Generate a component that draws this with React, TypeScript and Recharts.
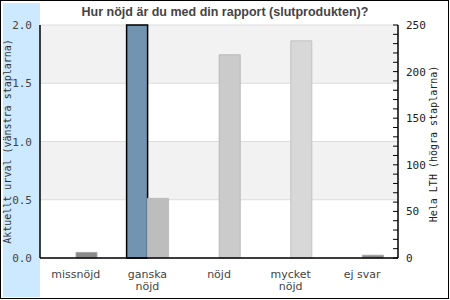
import { Bar, BarChart, CartesianGrid, Cell, XAxis, YAxis } from "recharts";

const categories = ["missnöjd", "ganska\nnöjd", "nöjd", "mycket\nnöjd", "ej svar"];
const urval = [0, 2, 0, 0, 0];
const helaLth = [6, 64, 218, 233, 3];
const lthColors = ["#8a8a8a", "#bdbdbd", "#cbcbcb", "#d8d8d8", "#8a8a8a"];
const lthStrokes = ["#a8a8a8", "#bdbdbd", "#b9b9b9", "#c2c2c2", "#a8a8a8"];
const leftTicks = [0, 0.5, 1, 1.5, 2];
const rightTicks = [0, 10, 20, 30, 40, 50, 60, 70, 80, 90, 100, 110, 120, 130, 140, 150, 160, 170, 180, 190, 200, 210, 220, 230, 240, 250];

const title = "Hur nöjd är du med din rapport (slutprodukten)?";
const leftTitle = "Aktuellt urval (vänstra staplarna)";
const rightTitle = "Hela LTH (högra staplarna)";

const data = categories.map((name, i) => ({
  name,
  urval: urval[i],
  lth: helaLth[i],
}));

const mono = "'DejaVu Sans Mono', monospace";

const CategoryTick = (props: any) => {
  const { x, y, payload } = props;
  const lines = String(payload.value).split("\n");
  return (
    <text
      x={x}
      y={y}
      textAnchor="middle"
      fontFamily="'DejaVu Sans', sans-serif"
      fontSize={11}
      fill="#444"
    >
      {lines.map((l, i) => (
        <tspan key={i} x={x} dy={i === 0 ? 20 : 11.5}>
          {l}
        </tspan>
      ))}
    </text>
  );
};

const LeftTick = (props: any) => {
  const { x, y, payload } = props;
  return (
    <text x={x} y={y} dy={4} textAnchor="end" fontFamily={mono} fontSize={11} fill="#444">
      {payload.value.toFixed(1)}
    </text>
  );
};

const RightTick = (props: any) => {
  const { x, y, payload } = props;
  const major = payload.value % 50 === 0;
  return (
    <g>
      <line x1={x - 13} x2={x - 8} y1={y} y2={y} stroke="#000" />
      {major && (
        <text x={x} y={y} dy={4} textAnchor="start" fontFamily={mono} fontSize={11} fill="#222">
          {payload.value}
        </text>
      )}
    </g>
  );
};

export default function App() {
  return (
    <div style={{ position: "absolute", left: 0, top: 0, width: 450, height: 300 }}>
      <svg width={450} height={300} style={{ position: "absolute", left: 0, top: 0 }}>
        <rect x={0.5} y={0.5} width={448} height={298} fill="#fff" stroke="#000" />
        <rect x={3} y={3} width={37} height={294} fill="#cce9ff" />
        <text
          x={225}
          y={16}
          textAnchor="middle"
          fontFamily="'Liberation Sans', Arial, sans-serif"
          fontWeight="bold"
          fontSize={12.5}
          fill="#444"
        >
          {title}
        </text>
        <text
          transform="translate(11,141.5) rotate(-90)"
          textAnchor="middle"
          fontFamily={mono}
          fontSize={10}
          fill="#333"
        >
          {leftTitle}
        </text>
        <text
          transform="translate(437,144) rotate(-90)"
          textAnchor="middle"
          fontFamily={mono}
          fontSize={10}
          fill="#222"
        >
          {rightTitle}
        </text>
      </svg>
      <div style={{ position: "absolute", left: 0, top: 0 }}>
        <BarChart
          width={450}
          height={300}
          data={data}
          barGap={0}
          barSize={21}
          margin={{ top: 25, right: 0, left: 0, bottom: 0 }}
        >
          <CartesianGrid
            yAxisId="left"
            vertical={false}
            stroke="#dddddd"
            fill="none"
            horizontalFill={["#f2f2f2", "#ffffff"]}
            fillOpacity={1}
          />
          <XAxis
            dataKey="name"
            height={42}
            interval={0}
            tickLine={false}
            tickSize={0}
            tickMargin={0}
            axisLine={{ stroke: "#000", strokeWidth: 1.5 }}
            tick={<CategoryTick />}
          />
          <XAxis
            xAxisId="top"
            orientation="top"
            dataKey="name"
            height={0}
            tick={false}
            tickLine={false}
            axisLine={{ stroke: "#000", strokeWidth: 1.5 }}
          />
          <YAxis
            yAxisId="left"
            width={40}
            domain={[0, 2]}
            ticks={leftTicks}
            tickLine={false}
            tickSize={0}
            tickMargin={8}
            axisLine={{ stroke: "#000", strokeWidth: 1.5 }}
            tick={<LeftTick />}
          />
          <YAxis
            yAxisId="right"
            orientation="right"
            width={52}
            domain={[0, 250]}
            ticks={rightTicks}
            interval={0}
            tickLine={false}
            tickSize={0}
            tickMargin={8}
            axisLine={{ stroke: "#000", strokeWidth: 1.5 }}
            tick={<RightTick />}
          />
          <Bar
            yAxisId="left"
            dataKey="urval"
            fill="#7394b0"
            stroke="#000"
            strokeWidth={1.5}
            isAnimationActive={false}
          />
          <Bar yAxisId="right" dataKey="lth" isAnimationActive={false}>
            {data.map((d, i) => (
              <Cell key={d.name} fill={lthColors[i]} stroke={lthStrokes[i]} />
            ))}
          </Bar>
        </BarChart>
      </div>
    </div>
  );
}
